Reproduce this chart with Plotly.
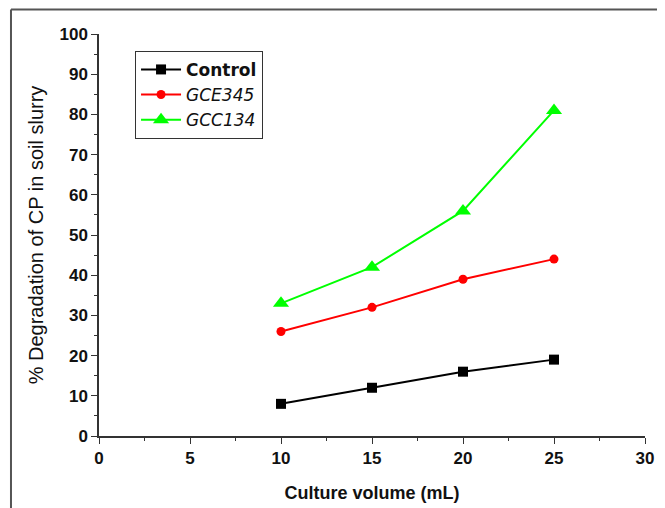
import plotly.graph_objects as go

volume = [10, 15, 20, 25]
control = [8, 12, 16, 19]
gce345 = [26, 32, 39, 44]
gcc134 = [33, 42, 56, 81]

x_ticks = [0, 5, 10, 15, 20, 25, 30]
y_ticks = [0, 10, 20, 30, 40, 50, 60, 70, 80, 90, 100]

FONT = "Liberation Sans, Arial, sans-serif"
LEG_FONT = "DejaVu Sans, sans-serif"

fig = go.Figure()
fig.add_trace(go.Scatter(x=volume, y=control, mode="lines+markers", name="<b>Control</b>",
                         line=dict(color="black", width=2),
                         marker=dict(symbol="square", size=10, color="black")))
fig.add_trace(go.Scatter(x=volume, y=gce345, mode="lines+markers", name="<i>GCE345</i>",
                         line=dict(color="#ff0000", width=2),
                         marker=dict(symbol="circle", size=9, color="#ff0000")))
fig.add_trace(go.Scatter(x=volume, y=gcc134, mode="lines+markers", name="<i>GCC134</i>",
                         line=dict(color="#00ff00", width=2),
                         marker=dict(symbol="triangle-up", size=14, color="#00ff00")))

axis_common = dict(showline=True, linecolor="#333", linewidth=1.5, ticks="outside",
                   ticklen=6, tickwidth=1.2, tickcolor="#333", showgrid=False, zeroline=False,
                   mirror=False, automargin=False,
                   tickfont=dict(family=FONT, size=17, color="#111"))

fig.update_xaxes(range=[0, 30], tickvals=x_ticks,
                 ticktext=[f"<b>{v}</b>" for v in x_ticks],
                 minor=dict(ticks="outside", ticklen=3, tickcolor="#333", dtick=2.5, tick0=0),
                 title=dict(text="<b>Culture volume (mL)</b>", standoff=19,
                            font=dict(family=FONT, size=18, color="#111")),
                 **axis_common)
fig.update_yaxes(range=[0, 100], tickvals=y_ticks,
                 ticktext=[f"<b>{v}</b>" for v in y_ticks],
                 minor=dict(ticks="outside", ticklen=3, tickcolor="#333", dtick=5, tick0=0),
                 title=dict(text="% Degradation of CP in soil slurry", standoff=10,
                            font=dict(family=FONT, size=20, color="#111")),
                 **axis_common)

fig.update_layout(
    width=657, height=500,
    margin=dict(l=91, r=20, t=26, b=72),
    plot_bgcolor="white", paper_bgcolor="white",
    font=dict(family=FONT, color="#111"),
    legend=dict(x=0.066, y=0.958, xanchor="left", yanchor="top",
                bordercolor="#333", borderwidth=1, bgcolor="white",
                font=dict(family=LEG_FONT, size=17, color="#111"),
                tracegroupgap=0, itemwidth=40),
    showlegend=True,
)

# outer figure frame (top and left edges)
fig.add_shape(type="line", xref="paper", yref="paper", x0=-0.1612, x1=1.04, y0=1.061, y1=1.061,
              line=dict(color="#555", width=2))
fig.add_shape(type="line", xref="paper", yref="paper", x0=-0.1612, x1=-0.1612, y0=1.061, y1=-0.2,
              line=dict(color="#555", width=2))

fig.write_html("out.html")
